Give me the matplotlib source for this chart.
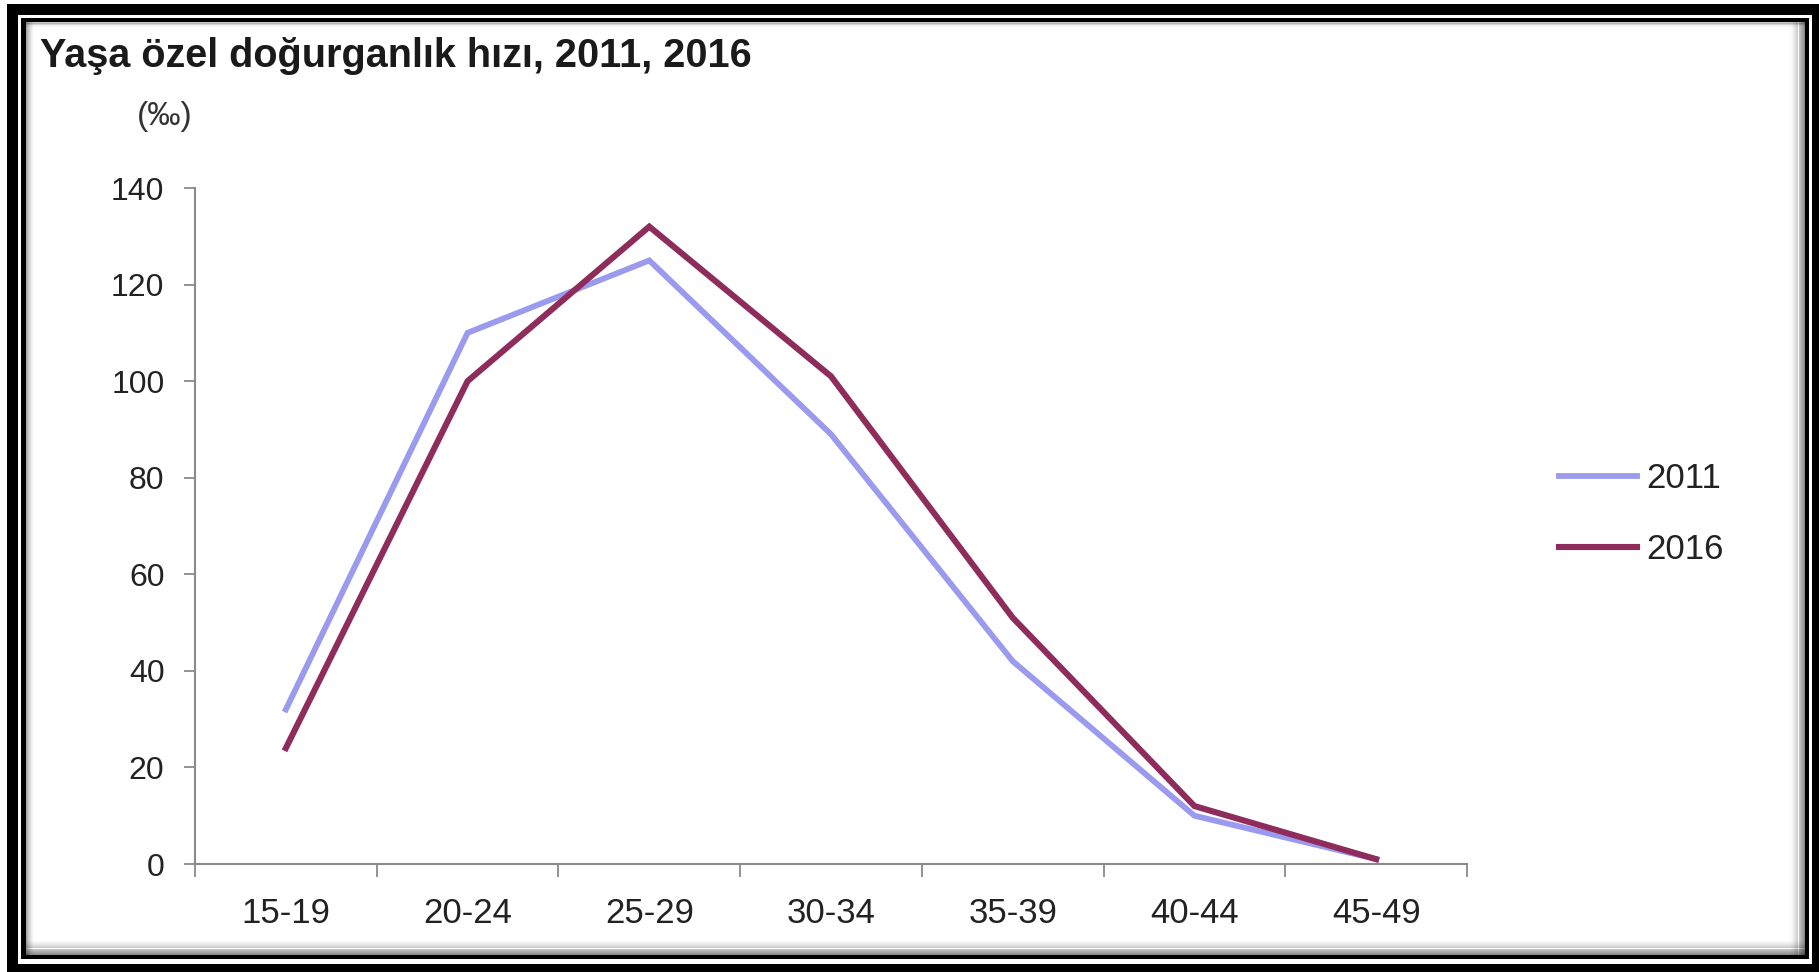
import numpy as np
import matplotlib.pyplot as plt
from matplotlib.patches import Rectangle

plt.rcParams['font.family'] = ['Liberation Sans', 'DejaVu Sans']

# data
age_groups = ['15-19', '20-24', '25-29', '30-34', '35-39', '40-44', '45-49']
asfr_2011 = [32, 110, 125, 89, 42, 10, 1]
asfr_2016 = [24, 100, 132, 101, 51, 12, 1]
series_names = ['2011', '2016']
y_ticks = [0, 20, 40, 60, 80, 100, 120, 140]

W, H = 1819, 972
fig = plt.figure(figsize=(W / 100, H / 100), dpi=100)
fig.patch.set_facecolor('white')

# background / frame axes in pixel coords
bg = fig.add_axes([0, 0, 1, 1])
bg.set_xlim(0, W)
bg.set_ylim(H, 0)
bg.axis('off')

def box(x0, y0, x1, y1, color, alpha=1.0):
    bg.add_patch(Rectangle((x0, y0), x1 - x0, y1 - y0, facecolor=color,
                           edgecolor='none', alpha=alpha))

box(7, 4, W, H, 'black')
box(18, 15, 1812, 964, 'white')
box(21, 18, 1809, 959, 'black')
box(26, 22, 1805, 955, 'white')

# inner shadow
n = 14
for i in range(n):
    a = 0.5 * (1 - i / n) ** 1.5
    box(1805 - 1 - i * 1.1, 22, 1805 - i * 1.1, 955, 'black', a * 0.9)
    box(26, 955 - 1 - i * 1.1, 1805, 955 - i * 1.1, 'black', a * 0.9)
for i in range(8):
    a = 0.35 * (1 - i / 8) ** 1.5
    box(26 + i, 22, 27 + i, 955, 'black', a)
    box(26, 22 + i * 0.6, 1805, 23 + i * 0.6, 'black', a * 0.6)

# main chart
left, right = 195 / W, 1467 / W
bottom, top = 1 - 864 / H, 1 - 188 / H
ax = fig.add_axes([left, bottom, right - left, top - bottom])
ax.set_facecolor('none')

x = np.arange(len(age_groups))
ax.plot(x, asfr_2011, color='#9A9AEE', lw=4.2, label=series_names[0],
        solid_joinstyle='miter')
ax.plot(x, asfr_2016, color='#8E2C5C', lw=4.4, label=series_names[1],
        solid_joinstyle='miter')

ax.set_xlim(-0.5, len(age_groups) - 0.5)
ax.set_ylim(0, 140)
ax.set_yticks(y_ticks)
ax.set_yticklabels([str(v) for v in y_ticks])

ax.set_xticks(np.arange(-0.5, len(age_groups), 1))
ax.set_xticklabels([])
ax.set_xticks(x, minor=True)
ax.set_xticklabels(age_groups, minor=True)

axis_col = '#8A8A8A'
for s in ['top', 'right']:
    ax.spines[s].set_visible(False)
for s in ['left', 'bottom']:
    ax.spines[s].set_color(axis_col)
    ax.spines[s].set_linewidth(1.5)

ax.tick_params(axis='y', direction='out', length=8, width=1.3, color=axis_col,
               labelsize=23, labelcolor='#222222', pad=14)
ax.tick_params(axis='x', which='major', direction='out', length=9, width=1.3,
               color=axis_col)
ax.tick_params(axis='x', which='minor', length=0, labelsize=25,
               labelcolor='#222222', pad=24)

# title and unit
fig.text(40 / W, 1 - 56 / H, 'Yaşa özel doğurganlık hızı, 2011, 2016',
         fontsize=28.5, fontweight='bold', color='#1a1a1a', va='center', ha='left')
fig.text(137 / W, 1 - 117 / H, '(‰)', fontsize=24, color='#333333',
         va='center', ha='left')

leg = ax.legend(loc='center left', bbox_to_anchor=(1528 / W, 1 - 514 / H),
                bbox_transform=fig.transFigure, frameon=False, fontsize=25,
                handlelength=2.25, handletextpad=0.26, labelspacing=1.1,
                labelcolor='#222222')

fig.savefig('out.png', dpi=100, facecolor='white')
